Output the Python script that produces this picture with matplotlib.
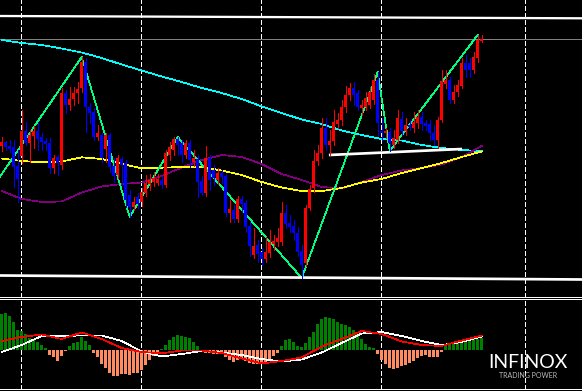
import numpy as np
import matplotlib.pyplot as plt

# candles, values in chart units (price = 300 - pixel row of the reference)
open_ = [154, 158, 154, 153, 134, 144, 169, 157, 164, 169,
         163, 159, 157, 132, 143, 135, 207, 195, 201, 207,
         212, 238, 193, 188, 163, 165, 151, 165, 134, 125,
         141, 137, 105, 93, 103, 98, 107, 116, 118, 117,
         120, 115, 145, 150, 161, 157, 145, 157, 138, 141,
         119, 107, 142, 130, 120, 127, 124, 87, 90, 81,
         101, 97, 74, 45, 55, 48, 41, 47, 56, 58,
         58, 87, 77, 74, 67, 49, 37, 92, 112, 139,
         147, 172, 155, 159, 176, 180, 193, 205, 212, 207,
         192, 193, 195, 200, 220, 169, 167, 168, 155, 160,
         181, 169, 175, 172, 177, 183, 177, 176, 167, 160,
         180, 216, 220, 200, 208, 214, 237, 237, 230, 242,
         259]
close = [158, 153, 151, 133, 121, 169, 157, 165, 169, 161,
         158, 156, 132, 142, 137, 207, 195, 201, 207, 211,
         238, 193, 187, 163, 167, 142, 165, 133, 124, 142,
         135, 100, 93, 98, 96, 108, 117, 120, 122, 121,
         115, 147, 153, 161, 155, 145, 157, 140, 142, 118,
         107, 142, 120, 122, 127, 123, 87, 91, 81, 101,
         96, 73, 54, 54, 46, 41, 48, 58, 59, 62,
         87, 76, 73, 67, 48, 35, 92, 111, 139, 147,
         172, 155, 159, 178, 180, 193, 205, 212, 205, 193,
         195, 202, 208, 220, 177, 167, 169, 157, 162, 182,
         169, 175, 173, 178, 183, 176, 174, 167, 160, 180,
         219, 220, 200, 208, 215, 237, 230, 230, 243, 260,
         261]
high = [163, 159, 160, 160, 150, 190, 178, 170, 174, 178,
        167, 162, 162, 145, 145, 212, 210, 213, 213, 218,
        243, 242, 197, 192, 175, 167, 167, 167, 142, 145,
        143, 140, 110, 103, 107, 112, 125, 126, 128, 126,
        124, 150, 158, 163, 163, 160, 160, 160, 150, 145,
        124, 154, 145, 135, 132, 130, 126, 100, 95, 104,
        104, 100, 78, 72, 60, 52, 63, 70, 65, 72,
        98, 95, 85, 80, 73, 55, 95, 115, 150, 155,
        182, 182, 170, 190, 187, 200, 214, 217, 218, 210,
        200, 208, 213, 226, 228, 182, 172, 172, 170, 190,
        188, 182, 180, 188, 190, 188, 180, 180, 175, 183,
        230, 230, 223, 215, 220, 242, 245, 242, 248, 265,
        265]
low = [149, 150, 148, 113, 98, 137, 155, 138, 152, 150,
       150, 150, 127, 127, 125, 131, 187, 190, 195, 197,
       208, 168, 177, 160, 160, 138, 138, 128, 118, 122,
       115, 93, 83, 90, 92, 94, 104, 110, 114, 115,
       112, 113, 140, 145, 145, 138, 142, 133, 134, 103,
       105, 104, 110, 115, 116, 117, 84, 78, 78, 78,
       88, 68, 44, 42, 38, 35, 38, 43, 50, 54,
       55, 72, 68, 60, 44, 22, 34, 90, 108, 135,
       142, 150, 145, 155, 172, 175, 188, 200, 195, 190,
       185, 190, 192, 196, 165, 160, 162, 149, 152, 157,
       165, 165, 170, 168, 172, 170, 170, 160, 155, 152,
       178, 212, 197, 197, 204, 212, 223, 223, 227, 238,
       258]

# moving averages read every 5 bars
ma_idx = list(range(0, 121, 5))
ma_cyan = [260, 257, 255, 251.5, 247.5, 242, 235.5, 229.5, 223.5, 218, 212, 207, 201,
           193.5, 187, 180.5, 176, 169.5, 165, 161, 159.5, 155, 152, 150, 149]
ma_yellow = [141.5, 139, 137.7, 138.5, 142.7, 141, 136, 131.7, 132.3, 133, 133, 129.5, 125,
             118, 112.5, 109, 109, 112, 117.5, 121, 127, 132, 137, 143, 148.5]
ma_purple = [109, 101, 98, 98.5, 107.5, 113.5, 116, 117.5, 124, 132.5, 140, 145, 143,
             136, 126, 120, 113, 111.5, 118, 125, 129.5, 132, 135.5, 143, 154]

# zigzag swing points
zz_idx = [-1, 20, 32, 44, 75, 94, 97, 119]
zz_val = [120, 243, 83, 163, 22, 228, 149, 265]

# drawn trend lines (bar index, price)
top_line_idx = [-0.425, 145.075]
top_line_val = [284, 281.7]
bottom_line_idx = [-0.425, 145.075]
bottom_line_val = [24.5, 20.5]
support_idx = [81.8, 115.1]
support_val = [145, 151]

grid_idx = [4.9, 34.9, 64.9, 94.9, 130.9]

# MACD panel
macd_hist = [35.7, 36.7, 34, 28.3, 20, 19, 16, 11.7, 10.7, 7.7, 5, 2.3,
             -5, -6.7, -11, -6, -1,
             4.3, 7.3, 8.3, 12.7, 9, 5,
             -3.3, -6.7, -14.3, -18.3, -22.7, -26, -26, -24, -24, -25, -23.3, -22.7, -20, -15, -10, -6, -2.7,
             1, 5, 10, 13.3, 15, 14, 13.3, 11.7, 8.3, 4,
             -1.7, -2.7, -3.3, -4, -4, -3.3, -6.7, -10, -11.7, -10, -9, -11, -12.7, -14.3, -14.3, -12.7,
             -11.7, -9.3, -6, -2.7,
             4.3, 10, 11, 8.3, 4.3, 3.3, 6.7, 12.7, 18.3, 26, 30.7, 33.3, 32.3, 30.7, 28.3, 26, 25, 23.3,
             20, 16, 10.7, 6, 3.3, 2.3,
             -4, -10, -14.3, -18.3, -19.3, -17.7, -16, -15, -13.3, -11, -8.3, -6, -5, -6.7, -7.3, -6.7, -1.7,
             6, 6.7, 7.7, 8.3, 10, 10.7, 10.7, 11, 11.3, 12.3]
macd_white = [-2, 5, 14, 14, 14.5, 14.5, 9, -1.5, -6.5, -4, -1, -2.5, -5, -9, -11.5, -9.5,
              -2.5, 7, 16.5, 18, 14, 9, 5, 8, 13.5]
macd_red = [9, 13, 15.5, 11, 17.5, 11, 2, -2, -3.3, -0.5, -0.5, -3, -8.5, -13.5, -11, -7.5,
            3.5, 11, 19, 16, 8.5, 5, 4, 9.5, 14.5]

W, H = 582, 391
PX = 0.72  # one pixel in points
THIN = 0.5  # crisp one-pixel line with antialiasing off

fig = plt.figure(figsize=(W / 100, H / 100), dpi=100, facecolor="black")
ax = fig.add_axes([0, (H - 297) / H, 1, 297 / H], facecolor="black")
macd_ax = fig.add_axes([0, (H - 389.3) / H, 1, (389.3 - 298.7) / H], facecolor="black")

for a in (ax, macd_ax):
    a.set_xlim(-0.425, 145.075)
    a.set_xticks([])
    a.set_yticks([])
    for s in a.spines.values():
        s.set_visible(False)
    for g in grid_idx:
        a.axvline(g, color="white", lw=THIN, ls=(0, (7, 4)), antialiased=False, zorder=1)

ax.set_ylim(3, 300)
macd_ax.set_ylim(-39.3, 51.3)
ax.spines["bottom"].set_visible(True)
ax.spines["bottom"].set_color("white")
ax.spines["bottom"].set_linewidth(PX)
for side in ("top", "bottom"):
    macd_ax.spines[side].set_visible(True)
    macd_ax.spines[side].set_color("white")
    macd_ax.spines[side].set_linewidth(PX)

o = np.array(open_, dtype=float)
c = np.array(close, dtype=float)
h = np.array(high, dtype=float)
l = np.array(low, dtype=float)
idx = np.arange(len(o))
colors = np.where(c >= o, "#ff0000", "#0000ff")

ax.axhline(c[-1], color="#808080", lw=THIN, antialiased=False, zorder=1)
ax.plot(ma_idx, ma_cyan, color="#00ffff", lw=THIN, antialiased=False, zorder=2)
ax.plot(ma_idx, ma_purple, color="#800080", lw=THIN, antialiased=False, zorder=2)
ax.plot(ma_idx, ma_yellow, color="#ffff00", lw=THIN, antialiased=False, zorder=2)
ax.plot(zz_idx, zz_val, color="#00ff7f", lw=THIN, antialiased=False, zorder=3)

ax.plot(top_line_idx, top_line_val, color="white", lw=2.3 * PX, solid_capstyle="butt", zorder=3)
ax.plot(bottom_line_idx, bottom_line_val, color="white", lw=2.7 * PX, solid_capstyle="butt", zorder=3)
ax.plot(support_idx, support_val, color="white", lw=2.7 * PX, solid_capstyle="butt", zorder=3)

ax.vlines(idx, l, h, colors=colors, lw=THIN, antialiased=False, zorder=4)
ax.bar(idx, np.maximum(np.abs(c - o), 0.8), width=0.65, bottom=np.minimum(o, c),
       color=colors, lw=0, zorder=5)

hist = np.array(macd_hist)
macd_ax.bar(np.arange(len(hist)), hist, width=0.75,
            color=np.where(hist >= 0, "#008000", "#ff8c60"), lw=0, zorder=2)
macd_ax.plot(ma_idx, macd_white, color="white", lw=THIN, antialiased=False, zorder=3)
macd_ax.plot(ma_idx, macd_red, color="#ff0000", lw=THIN, antialiased=False, zorder=3)

fig.text(528 / W, 1 - 363 / H, "INFINOX", color="white", fontsize=14, family="Lato",
         ha="center", va="center")
fig.text(528.5 / W, 1 - 375 / H, "TRADING POWER", color="#bbbbbb", fontsize=5, family="Lato",
         ha="center", va="center")

fig.savefig("out.png", dpi=100, facecolor="black")
